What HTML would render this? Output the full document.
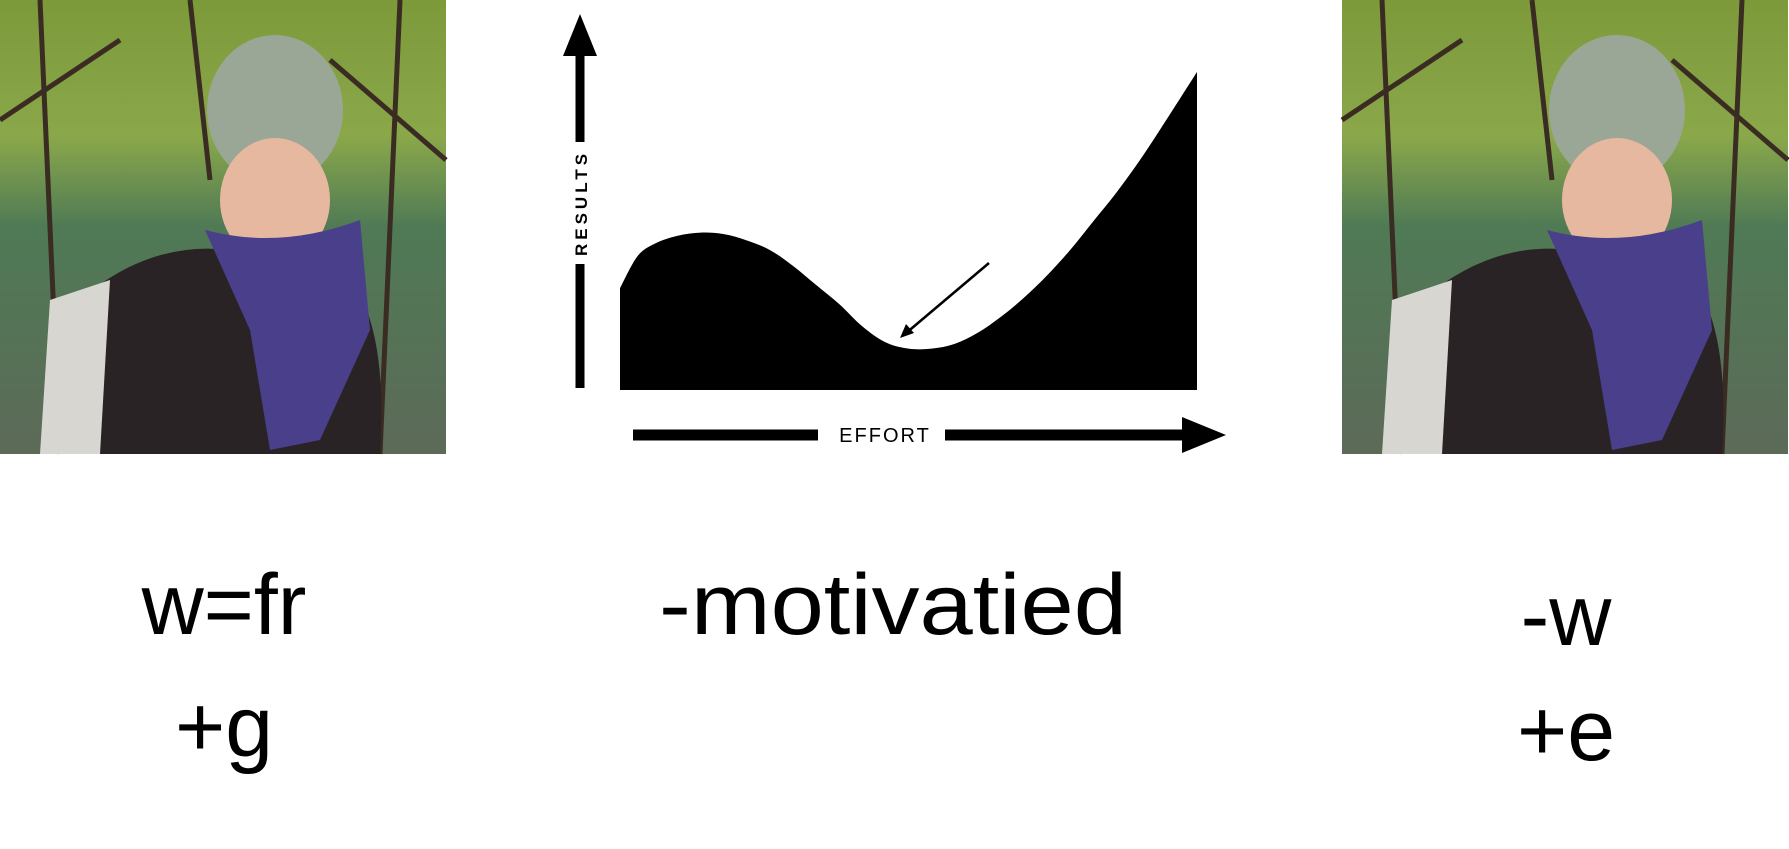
<!DOCTYPE html>
<html><head><meta charset="utf-8"><style>
html,body{margin:0;padding:0;background:#fff;width:1789px;height:849px;overflow:hidden}
svg{display:block}
text{font-family:"Liberation Sans",sans-serif}
</style></head><body>
<svg id="s" width="1789" height="849" viewBox="0 0 1789 849">
<defs>
<linearGradient id="bg" x1="0" y1="0" x2="0" y2="1">
<stop offset="0" stop-color="#7c9a3a"/><stop offset="0.3" stop-color="#8aa84a"/><stop offset="0.5" stop-color="#4f7a55"/><stop offset="1" stop-color="#5d6a58"/>
</linearGradient>
<g id="photo">
<rect x="0" y="0" width="446" height="454" fill="url(#bg)"/>
<g stroke="#3a2c22" stroke-width="5" fill="none">
<path d="M40 0 L60 454"/><path d="M190 0 L210 180"/><path d="M400 0 L380 454"/><path d="M0 120 L120 40"/><path d="M330 60 L446 160"/>
</g>
<ellipse cx="275" cy="110" rx="68" ry="75" fill="#9aa796"/>
<ellipse cx="275" cy="200" rx="55" ry="62" fill="#e6b8a0"/>
<path d="M60 454 L80 300 Q150 240 230 250 L330 260 Q390 300 380 454 Z" fill="#2a2325"/>
<path d="M205 230 Q280 250 360 220 L370 330 L320 440 L270 450 L250 330 Z" fill="#4a3f8a"/>
<path d="M40 454 L50 300 L110 280 L100 454 Z" fill="#d8d6d0"/>
</g>
</defs>
<use href="#photo" x="0" y="0"/>
<use href="#photo" x="1342" y="0"/>

<g id="chart"></g>

<text x="224" y="634" font-size="86" text-anchor="middle">w=fr</text>
<text x="224" y="756" font-size="86" text-anchor="middle">+g</text>
<text x="893" y="634" font-size="86" text-anchor="middle" textLength="468" lengthAdjust="spacingAndGlyphs">-motivatied</text>
<text x="1566" y="645" font-size="86" text-anchor="middle">-w</text>
<text x="1566" y="760" font-size="86" text-anchor="middle">+e</text>
</svg>
<script>
// effort (0-100) vs results (0-100)
const effort = [0,3,6,10,14,18,22,26,30,34,38,42,46,50,54,58,62,66,70,74,78,82,86,90,94,100];
const results = [32,42,46,48.5,49.5,49,47,44,39,33,27,20,15,13,13,14.5,18,23,29,36,44,53,62,72,83,100];
const NS="http://www.w3.org/2000/svg";
const g=document.getElementById('chart');
const x0=620,x1=1197,yb=390,yt=72;
const xs=v=>x0+(x1-x0)*v/100;
const ys=v=>yb-(yb-yt)*v/100;
function mk(t,a){const e=document.createElementNS(NS,t);for(const k in a)e.setAttribute(k,a[k]);g.appendChild(e);return e;}
// area
let d=`M${xs(effort[0])} ${yb} `;
const pts=effort.map((e,i)=>[xs(e),ys(results[i])]);
d+=`L${pts[0][0]} ${pts[0][1]} `;
for(let i=1;i<pts.length;i++){
 const p0=pts[Math.max(0,i-2)],p1=pts[i-1],p2=pts[i],p3=pts[Math.min(pts.length-1,i+1)];
 const c1x=p1[0]+(p2[0]-p0[0])/6,c1y=p1[1]+(p2[1]-p0[1])/6,c2x=p2[0]-(p3[0]-p1[0])/6,c2y=p2[1]-(p3[1]-p1[1])/6;
 d+=`C${c1x} ${c1y} ${c2x} ${c2y} ${p2[0]} ${p2[1]} `;
}
d+=`L${xs(100)} ${yb} Z`;
const area=mk('path',{d:d,fill:'#000'});


// y axis
const ya=mk('path',{d:'M576 388 L576 142 M576 265 L576 388',stroke:'#000','stroke-width':9,fill:'none'});


ya.setAttribute('d','M580 388 L580 264 M580 142 L580 50');
const yh=mk('polygon',{points:'563,56 597,56 580,14',fill:'#000'});


const yl=mk('text',{x:0,y:0,'font-size':17,'font-weight':'bold','letter-spacing':4,'text-anchor':'middle',transform:'translate(587,203) rotate(-90)'});
yl.textContent='RESULTS';


// x axis
const xa=mk('path',{d:'M633 435 L818 435 M945 435 L1190 435',stroke:'#000','stroke-width':11,fill:'none'});


const xh=mk('polygon',{points:'1182,417 1182,453 1226,435',fill:'#000'});


const xl=mk('text',{x:885,y:442,'font-size':20,'text-anchor':'middle','letter-spacing':2});
xl.textContent='EFFORT';


// annotation arrow
const an=mk('path',{d:'M989 263 L905 334',stroke:'#000','stroke-width':2.5,fill:'none'});


const ah=mk('polygon',{points:'900,338 906,324 914,333',fill:'#000'});


</script>
</body></html>
